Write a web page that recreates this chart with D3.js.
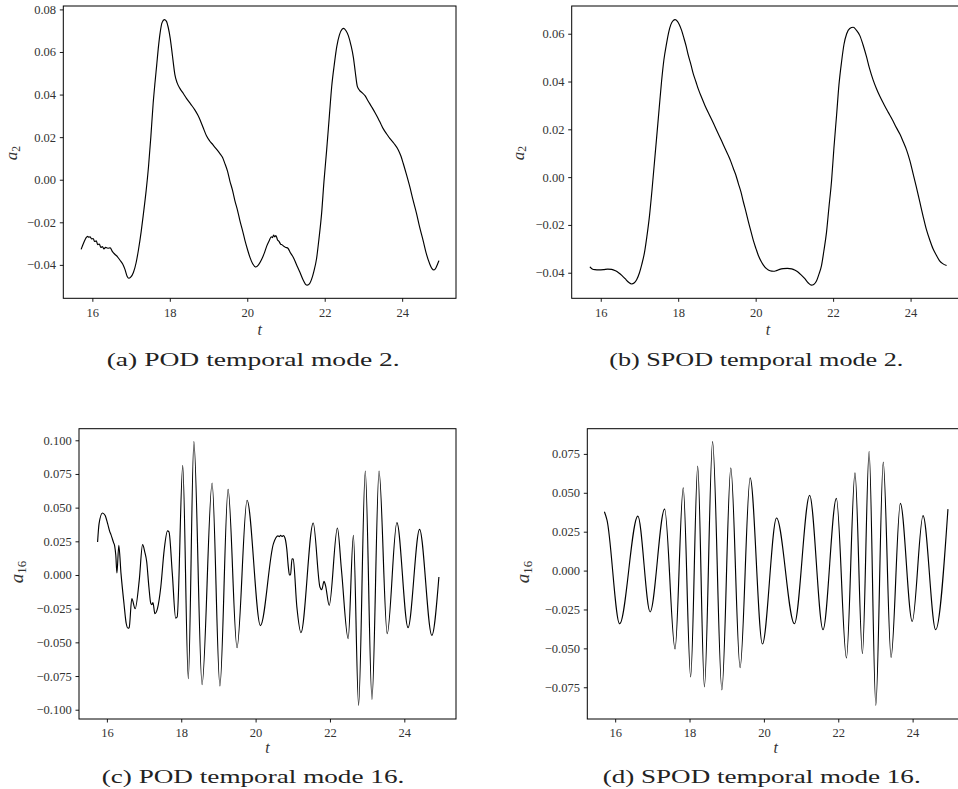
<!DOCTYPE html>
<html><head><meta charset="utf-8">
<script src="https://cdn.jsdelivr.net/npm/d3@7"></script>
<style>html,body{margin:0;padding:0;background:#fff;overflow:hidden}svg{display:block}</style>
</head><body>
<svg id="chart" width="958" height="789"></svg>
<script>
// ---------------- data ----------------
const xTicks = [16, 18, 20, 22, 24];
const yTicksPod2 = [-0.04, -0.02, 0, 0.02, 0.04, 0.06, 0.08];
const yTicksSpod2 = [-0.04, -0.02, 0, 0.02, 0.04, 0.06];
const yTicksPod16 = [-0.1, -0.075, -0.05, -0.025, 0, 0.025, 0.05, 0.075, 0.1];
const yTicksSpod16 = [-0.075, -0.05, -0.025, 0, 0.025, 0.05, 0.075];
const captions = ["(a) POD temporal mode 2.", "(b) SPOD temporal mode 2.",
                  "(c) POD temporal mode 16.", "(d) SPOD temporal mode 16."];
const yLabelSubs = ["2", "2", "16", "16"];

const tPod2 = [15.71,15.78,15.84,15.88,15.91,15.94,15.98,16.02,16.06,16.10,16.14,16.18,16.22,16.26,16.30,16.34,16.40,16.46,16.52,16.58,16.65,16.71,16.78,16.84,16.90,16.94,16.99,17.06,17.13,17.19,17.26,17.32,17.39,17.45,17.51,17.57,17.62,17.66,17.71,17.75,17.80,17.86,17.91,17.96,18.01,18.05,18.09,18.13,18.19,18.26,18.35,18.43,18.54,18.65,18.72,18.78,18.86,18.95,19.03,19.12,19.20,19.29,19.36,19.42,19.49,19.55,19.62,19.68,19.75,19.81,19.88,19.94,20.01,20.07,20.14,20.22,20.29,20.37,20.44,20.50,20.57,20.62,20.65,20.68,20.71,20.74,20.78,20.82,20.86,20.90,20.95,21.00,21.05,21.12,21.19,21.27,21.36,21.44,21.50,21.55,21.61,21.66,21.72,21.79,21.85,21.92,21.98,22.05,22.12,22.18,22.25,22.31,22.38,22.45,22.49,22.55,22.61,22.68,22.74,22.79,22.84,22.90,22.97,23.04,23.12,23.21,23.30,23.38,23.45,23.51,23.60,23.68,23.79,23.90,23.97,24.03,24.11,24.20,24.28,24.37,24.45,24.54,24.62,24.71,24.77,24.82,24.87,24.91,24.95];
const aPod2 = [-0.0327,-0.0295,-0.0272,-0.0266,-0.0270,-0.0268,-0.0278,-0.0276,-0.0290,-0.0287,-0.0305,-0.0302,-0.0318,-0.0314,-0.0325,-0.0318,-0.0322,-0.0320,-0.0338,-0.0350,-0.0362,-0.0377,-0.0395,-0.0420,-0.0455,-0.0463,-0.0458,-0.0436,-0.0390,-0.0330,-0.0245,-0.0158,-0.0050,0.0061,0.0200,0.0358,0.0460,0.0535,0.0630,0.0690,0.0738,0.0752,0.0745,0.0715,0.0665,0.0610,0.0550,0.0495,0.0455,0.0429,0.0405,0.0382,0.0355,0.0327,0.0305,0.0282,0.0245,0.0205,0.0182,0.0163,0.0145,0.0124,0.0105,0.0077,0.0040,-0.0005,-0.0050,-0.0098,-0.0145,-0.0192,-0.0240,-0.0285,-0.0330,-0.0365,-0.0395,-0.0410,-0.0400,-0.0375,-0.0345,-0.0313,-0.0285,-0.0268,-0.0272,-0.0260,-0.0268,-0.0262,-0.0282,-0.0290,-0.0302,-0.0306,-0.0314,-0.0318,-0.0322,-0.0345,-0.0365,-0.0398,-0.0435,-0.0470,-0.0490,-0.0495,-0.0488,-0.0468,-0.0430,-0.0370,-0.0280,-0.0158,-0.0010,0.0139,0.0300,0.0437,0.0545,0.0624,0.0680,0.0707,0.0711,0.0700,0.0677,0.0630,0.0575,0.0505,0.0440,0.0420,0.0408,0.0395,0.0370,0.0343,0.0315,0.0288,0.0262,0.0240,0.0215,0.0194,0.0170,0.0140,0.0110,0.0075,0.0025,-0.0035,-0.0095,-0.0158,-0.0222,-0.0285,-0.0345,-0.0395,-0.0418,-0.0424,-0.0415,-0.0398,-0.0380];

const tSpod2 = [15.72,15.78,15.85,15.95,16.07,16.18,16.28,16.38,16.46,16.55,16.63,16.72,16.80,16.86,16.93,17.00,17.06,17.13,17.19,17.26,17.32,17.38,17.44,17.51,17.57,17.63,17.70,17.76,17.81,17.87,17.92,17.98,18.03,18.09,18.15,18.21,18.26,18.33,18.39,18.46,18.52,18.60,18.69,18.80,18.91,19.01,19.12,19.21,19.29,19.36,19.42,19.49,19.55,19.62,19.68,19.75,19.81,19.88,19.94,20.01,20.07,20.14,20.20,20.28,20.37,20.46,20.54,20.62,20.71,20.82,20.93,21.02,21.10,21.18,21.27,21.36,21.44,21.50,21.57,21.63,21.70,21.76,21.83,21.89,21.96,22.02,22.09,22.15,22.22,22.28,22.35,22.43,22.52,22.60,22.69,22.77,22.86,22.94,23.03,23.12,23.21,23.31,23.42,23.53,23.64,23.73,23.81,23.90,23.98,24.06,24.15,24.24,24.33,24.41,24.50,24.58,24.67,24.75,24.83,24.93];
const aSpod2 = [-0.0375,-0.0384,-0.0387,-0.0388,-0.0387,-0.0385,-0.0386,-0.0392,-0.0400,-0.0412,-0.0425,-0.0440,-0.0447,-0.0443,-0.0428,-0.0400,-0.0365,-0.0315,-0.0250,-0.0160,-0.0060,0.0050,0.0160,0.0290,0.0400,0.0490,0.0560,0.0610,0.0638,0.0655,0.0659,0.0652,0.0638,0.0613,0.0580,0.0545,0.0510,0.0470,0.0432,0.0398,0.0368,0.0335,0.0300,0.0262,0.0225,0.0190,0.0152,0.0120,0.0092,0.0065,0.0038,0.0008,-0.0025,-0.0062,-0.0102,-0.0145,-0.0185,-0.0228,-0.0265,-0.0300,-0.0328,-0.0352,-0.0368,-0.0383,-0.0392,-0.0394,-0.0391,-0.0386,-0.0383,-0.0382,-0.0384,-0.0390,-0.0398,-0.0410,-0.0425,-0.0443,-0.0452,-0.0449,-0.0435,-0.0408,-0.0370,-0.0310,-0.0230,-0.0130,-0.0015,0.0120,0.0260,0.0385,0.0485,0.0555,0.0600,0.0622,0.0627,0.0615,0.0592,0.0555,0.0505,0.0455,0.0408,0.0370,0.0337,0.0305,0.0272,0.0240,0.0205,0.0178,0.0148,0.0112,0.0070,0.0018,-0.0042,-0.0105,-0.0168,-0.0220,-0.0265,-0.0300,-0.0328,-0.0350,-0.0362,-0.0370];

const tPod16 = [15.75,15.79,15.88,15.95,16.02,16.08,16.11,16.15,16.18,16.21,16.24,16.27,16.32,16.38,16.46,16.52,16.57,16.60,16.67,16.76,16.87,16.96,17.02,17.07,17.13,17.18,17.21,17.24,17.29,17.36,17.45,17.54,17.63,17.67,17.76,17.85,17.89,18.04,18.19,18.34,18.56,18.83,19.04,19.26,19.50,19.77,20.13,20.48,20.60,20.64,20.67,20.71,20.75,20.79,20.84,20.88,20.91,20.94,20.98,21.01,21.11,21.22,21.55,21.73,21.78,21.84,21.88,21.98,22.20,22.31,22.49,22.63,22.77,22.95,23.13,23.32,23.54,23.80,24.10,24.41,24.74,24.93];
const aPod16 = [0.0245,0.0381,0.0460,0.0443,0.0381,0.0320,0.0300,0.0265,0.0240,0.0215,0.0146,0.0015,0.0220,0.0010,-0.0213,-0.0360,-0.0395,-0.0390,-0.0175,-0.0250,-0.0040,0.0225,0.0170,0.0100,-0.0089,-0.0210,-0.0220,-0.0205,-0.0287,-0.0250,-0.0089,0.0183,0.0327,0.0320,0.0010,-0.0320,-0.0312,0.0814,-0.0770,0.0990,-0.0814,0.0683,-0.0824,0.0636,-0.0540,0.0555,-0.0376,0.0233,0.0290,0.0285,0.0295,0.0286,0.0292,0.0275,0.0190,0.0060,0.0000,0.0002,0.0120,0.0118,-0.0238,-0.0428,0.0386,-0.0089,-0.0109,-0.0047,-0.0077,-0.0225,0.0349,0.0035,-0.0473,0.0295,-0.0968,0.0772,-0.0923,0.0772,-0.0436,0.0389,-0.0391,0.0339,-0.0448,-0.0015];

const tSpod16 = [15.71,15.78,16.12,16.61,16.94,17.33,17.61,17.83,18.03,18.22,18.40,18.62,18.87,19.11,19.36,19.63,19.96,20.34,20.82,21.23,21.59,21.95,22.22,22.45,22.65,22.83,23.01,23.21,23.42,23.67,23.99,24.28,24.62,24.95];
const aSpod16 = [0.0378,0.0325,-0.0342,0.0350,-0.0265,0.0395,-0.0504,0.0532,-0.0684,0.0671,-0.0748,0.0829,-0.0767,0.0660,-0.0624,0.0596,-0.0472,0.0338,-0.0342,0.0483,-0.0380,0.0464,-0.0562,0.0628,-0.0534,0.0767,-0.0866,0.0697,-0.0558,0.0432,-0.0327,0.0353,-0.0380,0.0395];

// ---------------- layout ----------------
const panels = [
  {t: tPod2,  a: aPod2,  yTicks: yTicksPod2,  fmt: ".2f", x0: 63.3,  x1: 456,   y0: 6,     y1: 298.3, yDom: [-0.0557, 0.0816],
   ylx: 17, yly: 153, ylSize: 17, tlY: 334.5, capX: 106.7, capLen: 293, capY: 366},
  {t: tSpod2, a: aSpod2, yTicks: yTicksSpod2, fmt: ".2f", x0: 571.7, x1: 964.4, y0: 6,     y1: 298.3, yDom: [-0.0507, 0.0716],
   ylx: 523.5, yly: 153, ylSize: 17, tlY: 334.5, capX: 609.3, capLen: 294, capY: 366},
  {t: tPod16, a: aPod16, yTicks: yTicksPod16, fmt: ".3f", x0: 79,    x1: 456,   y0: 428.7, y1: 719,   yDom: [-0.1069, 0.1086],
   ylx: 23, yly: 572, ylSize: 19, tlY: 753, capX: 101.7, capLen: 302.6, capY: 783},
  {t: tSpod16, a: aSpod16, yTicks: yTicksSpod16, fmt: ".3f", x0: 587.3, x1: 964.3, y0: 428.7, y1: 719, yDom: [-0.0954, 0.0912],
   ylx: 529, yly: 572, ylSize: 19, tlY: 753, capX: 602.7, capLen: 318, capY: 783}
];
const xDom = [15.25, 25.39];
const serif = "'Liberation Serif','DejaVu Serif',serif";

const svg = d3.select("#chart");

panels.forEach((p, i) => {
  const x = d3.scaleLinear().domain(xDom).range([p.x0, p.x1]);
  const y = d3.scaleLinear().domain(p.yDom).range([p.y1, p.y0]);
  const g = svg.append("g");

  const pts = p.t.map((tv, k) => [tv, p.a[k]]);
  g.append("path")
    .datum(pts)
    .attr("fill", "none")
    .attr("stroke", "#000")
    .attr("stroke-width", 1.15)
    .attr("stroke-linejoin", "round")
    .attr("d", d3.line().x(d => x(d[0])).y(d => y(d[1])).curve(d3.curveMonotoneX));

  const xa = g.append("g").attr("transform", `translate(0,${p.y1})`)
    .call(d3.axisBottom(x).tickValues(xTicks).tickFormat(d3.format("d")).tickSize(3.5).tickSizeOuter(0).tickPadding(6));
  const ya = g.append("g").attr("transform", `translate(${p.x0},0)`)
    .call(d3.axisLeft(y).tickValues(p.yTicks).tickFormat(d3.format(p.fmt)).tickSize(3.5).tickSizeOuter(0).tickPadding(3.8));
  [xa, ya].forEach(a => {
    a.select(".domain").remove();
    a.selectAll(".tick line").attr("stroke", "#000").attr("stroke-width", 0.9);
    a.selectAll(".tick text").attr("fill", "#333").style("font-family", serif).style("font-size", "12.5px");
  });

  g.append("rect")
    .attr("x", p.x0).attr("y", p.y0)
    .attr("width", p.x1 - p.x0).attr("height", p.y1 - p.y0)
    .attr("fill", "none").attr("stroke", "#000").attr("stroke-width", 1);

  g.append("text")
    .attr("x", (p.x0 + p.x1) / 2).attr("y", p.tlY)
    .attr("text-anchor", "middle")
    .style("font-family", serif).style("font-style", "italic").style("font-size", "16px")
    .attr("fill", "#333")
    .text("t");

  const yl = g.append("text")
    .attr("transform", `translate(${p.ylx},${p.yly}) rotate(-90)`)
    .attr("text-anchor", "middle")
    .style("font-family", serif).style("font-size", p.ylSize + "px")
    .attr("fill", "#333");
  yl.append("tspan").style("font-style", "italic").text("a");
  yl.append("tspan").attr("dy", "0.22em").style("font-size", (p.ylSize * 0.68) + "px").text(yLabelSubs[i]);

  svg.append("text")
    .attr("x", p.capX).attr("y", p.capY)
    .attr("textLength", p.capLen).attr("lengthAdjust", "spacingAndGlyphs")
    .style("font-family", serif).style("font-size", "19px")
    .attr("fill", "#222")
    .text(captions[i]);
});
</script>
</body></html>
